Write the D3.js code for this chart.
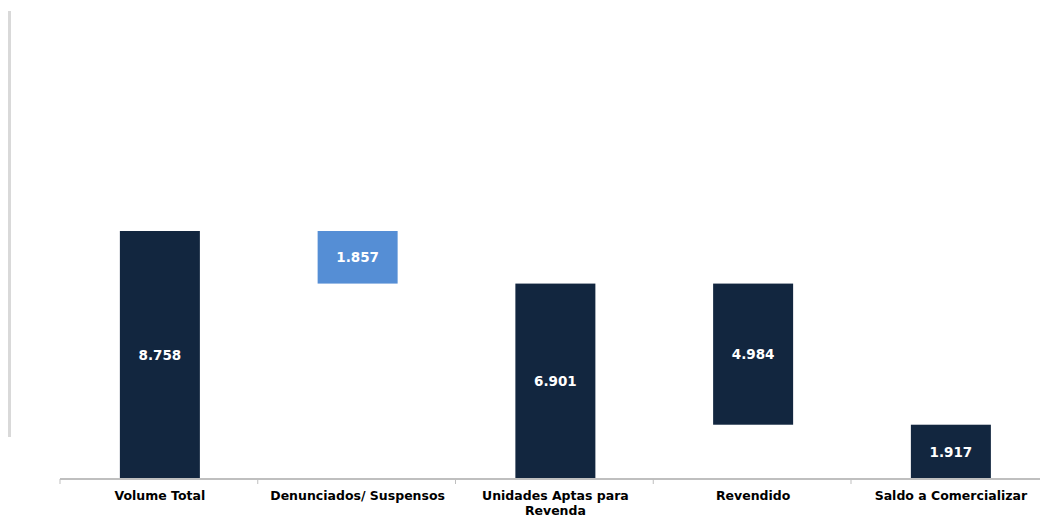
<!DOCTYPE html>
<html lang="pt">
<head>
<meta charset="UTF-8">
<title>Waterfall</title>
<script src="https://d3js.org/d3.v7.min.js"></script>
<style>
  body { margin: 0; background: #fff; }
  svg text { font-family: "DejaVu Sans", Verdana, sans-serif; font-weight: bold; }
</style>
</head>
<body>
<svg id="chart" width="1040" height="518"></svg>
<script>
// data
const categories = ["Volume Total", "Denunciados/ Suspensos", "Unidades Aptas para Revenda", "Revendido", "Saldo a Comercializar"];
const values = [8758, 1857, 6901, 4984, 1917];
const kinds = ["total", "decrease", "total", "decrease", "total"];
const valueLabels = ["8.758", "1.857", "6.901", "4.984", "1.917"];

const navy = "#12263f", lightBlue = "#558ed5";
const barColors = [navy, lightBlue, navy, navy, navy];

const svg = d3.select("#chart");
const baseY = 479;

// running total to get start / end of each bar
let running = 0;
const bars = categories.map((c, i) => {
  let y0, y1;
  if (kinds[i] === "total") { y0 = 0; y1 = values[i]; running = values[i]; }
  else { y1 = running; y0 = running - values[i]; running = y0; }
  return { cat: c, y0: y0, y1: y1, label: valueLabels[i], color: barColors[i] };
});

const x = d3.scaleBand().domain(categories).range([61, 61 + 5 * 197.75]).paddingInner(0).paddingOuter(0);
const y = d3.scaleLinear().domain([0, 8758]).range([baseY, 231]);

// left gray line
svg.append("line")
  .attr("x1", 9.5).attr("x2", 9.5).attr("y1", 11).attr("y2", 437)
  .attr("stroke", "#d9d9d9").attr("stroke-width", 3);

// bars
const barW = 80;
svg.append("g").selectAll("rect").data(bars).enter().append("rect")
  .attr("x", d => x(d.cat) + x.bandwidth() / 2 - barW / 2)
  .attr("width", barW)
  .attr("y", d => y(d.y1))
  .attr("height", d => y(d.y0) - y(d.y1))
  .attr("fill", d => d.color);

// value labels
svg.append("g").selectAll("text").data(bars).enter().append("text")
  .attr("x", d => x(d.cat) + x.bandwidth() / 2)
  .attr("y", d => (y(d.y0) + y(d.y1)) / 2)
  .attr("dy", "0.36em")
  .attr("text-anchor", "middle")
  .attr("fill", "#fff")
  .attr("font-size", 13.5)
  .text(d => d.label);

// x axis
const xAxis = svg.append("g")
  .attr("transform", `translate(0,${baseY})`)
  .call(d3.axisBottom(x).tickSize(0).tickPadding(12));
xAxis.select(".domain").remove();
xAxis.append("line")
  .attr("x1", 60).attr("x2", 1040).attr("y1", 0).attr("y2", 0)
  .attr("stroke", "#bfbfbf").attr("stroke-width", 2);
// boundary ticks
xAxis.selectAll(".bound").data(d3.range(5)).enter().append("line")
  .attr("class", "bound")
  .attr("x1", i => x(categories[i]) - 1).attr("x2", i => x(categories[i]) - 1)
  .attr("y1", 0).attr("y2", 5)
  .attr("stroke", "#bfbfbf").attr("stroke-width", 1);

xAxis.selectAll(".tick text")
  .attr("fill", "#000")
  .attr("font-size", 12.5)
  .attr("font-family", "DejaVu Sans, Verdana, sans-serif")
  .attr("font-weight", "bold")
  .call(wrap, 185);

function wrap(texts, width) {
  texts.each(function () {
    const t = d3.select(this);
    const words = t.text().split(/\s+/);
    const yy = t.attr("y"), dy = parseFloat(t.attr("dy"));
    t.text(null);
    let line = [];
    let lineNo = 0;
    let tspan = t.append("tspan").attr("x", 0).attr("y", yy).attr("dy", dy + "em");
    words.forEach(w => {
      line.push(w);
      tspan.text(line.join(" "));
      if (tspan.node().getComputedTextLength() > width && line.length > 1) {
        line.pop();
        tspan.text(line.join(" "));
        line = [w];
        lineNo++;
        tspan = t.append("tspan").attr("x", 0).attr("y", yy)
          .attr("dy", (lineNo * 1.2 + dy) + "em").text(w);
      }
    });
  });
}
</script>
</body>
</html>
